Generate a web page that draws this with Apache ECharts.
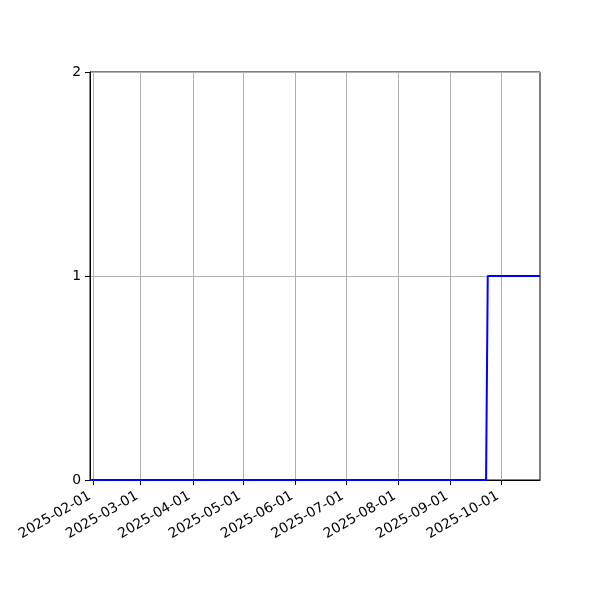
<!DOCTYPE html>
<html>
<head>
<meta charset="utf-8">
<script src="https://cdn.jsdelivr.net/npm/echarts@6/dist/echarts.min.js"></script>
<style>
  html, body { margin: 0; padding: 0; background: #fff; }
  #chart { width: 600px; height: 600px; }
</style>
</head>
<body>
<div id="chart"></div>
<script>
// change points of the series (daily values, flat between these)
var dates = ['2025-01-30', '2025-09-22', '2025-09-23', '2025-10-24'];
var values = [0, 0, 1, 1];

var monthTicks = ['2025-02-01', '2025-03-01', '2025-04-01', '2025-05-01', '2025-06-01',
                  '2025-07-01', '2025-08-01', '2025-09-01', '2025-10-01'];
var yTicks = [0, 1, 2];

var ts = function (s) { return Date.UTC(+s.slice(0, 4), +s.slice(5, 7) - 1, +s.slice(8, 10)); };
var tickValues = monthTicks.map(ts);
var seriesData = dates.map(function (d, i) { return [ts(d), values[i]]; });

var pad = function (n) { return (n < 10 ? '0' : '') + n; };
var fmtDate = function (v) {
  var d = new Date(v);
  return d.getUTCFullYear() + '-' + pad(d.getUTCMonth() + 1) + '-' + pad(d.getUTCDate());
};

var dom = document.getElementById('chart');
var myChart = echarts.init(dom, null, { renderer: 'canvas' });

var option = {
  animation: false,
  backgroundColor: '#fff',
  textStyle: { fontFamily: 'DejaVu Sans' },
  grid: {
    left: 90, right: 60, top: 72, bottom: 120,
    show: true,
    borderColor: '#000',
    borderWidth: 1,
    backgroundColor: 'transparent'
  },
  xAxis: {
    type: 'value',
    scale: true,
    min: ts(dates[0]),
    max: ts(dates[dates.length - 1]),
    axisLine: { show: true, onZero: false, lineStyle: { color: '#000', width: 1 } },
    axisTick: {
      show: true, inside: false, length: 5,
      customValues: tickValues,
      lineStyle: { color: '#000', width: 1 }
    },
    axisLabel: {
      customValues: tickValues,
      rotate: 30,
      margin: 13,
      padding: [0, 4, 0, 0],
      fontSize: 13.9,
      color: '#000',
      fontFamily: 'DejaVu Sans',
      formatter: fmtDate
    },
    splitLine: { show: true, lineStyle: { color: '#b0b0b0', width: 1 } }
  },
  yAxis: {
    type: 'value',
    min: yTicks[0],
    max: yTicks[yTicks.length - 1],
    interval: 1,
    axisLine: { show: true, lineStyle: { color: '#000', width: 1 } },
    axisTick: { show: true, inside: false, length: 5, lineStyle: { color: '#000', width: 1 } },
    axisLabel: {
      margin: 9,
      fontSize: 13.9,
      color: '#000',
      fontFamily: 'DejaVu Sans'
    },
    splitLine: { show: true, lineStyle: { color: '#b0b0b0', width: 1 } }
  },
  series: [{
    type: 'line',
    data: seriesData,
    showSymbol: false,
    symbol: 'none',
    lineStyle: { color: '#0000ff', width: 2 },
    itemStyle: { color: '#0000ff' },
    clip: true
  }]
};

if (option && typeof option === 'object') {
  myChart.setOption(option);
}

window.addEventListener('resize', myChart.resize);
</script>
</body>
</html>
